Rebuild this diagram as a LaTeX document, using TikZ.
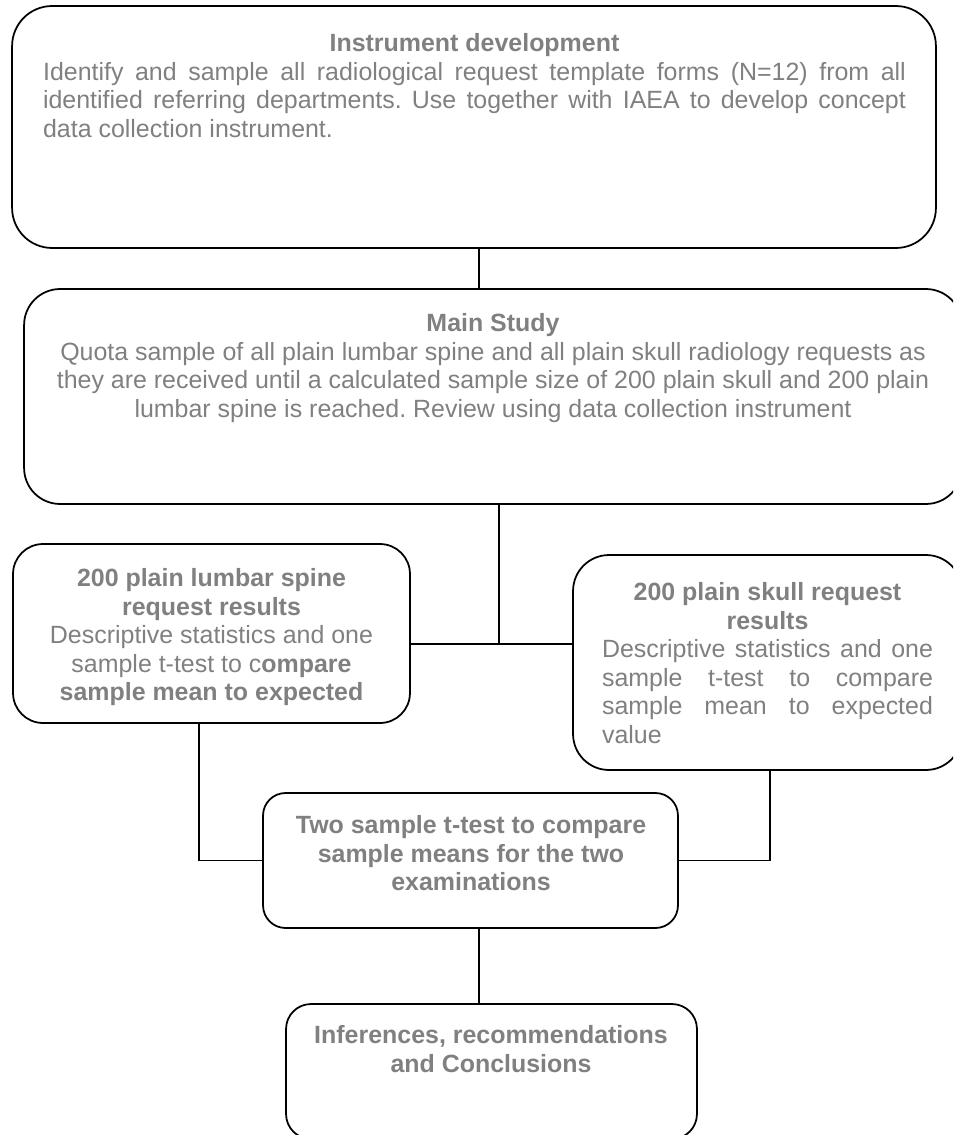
\documentclass[tikz,border=0pt]{standalone}
\usepackage{fontspec}
\setmainfont{Liberation Sans}
\frenchspacing
\definecolor{ink}{HTML}{808080}
\tikzset{
  box/.style={draw=black,fill=white,line width=1pt,inner sep=0pt},
  txt/.style={text=ink,inner sep=0pt,anchor=north,align=center,font=\fontsize{14.2}{16.3}\selectfont},
  link/.style={line width=1pt,draw=black},
}
\newcommand{\jline}[2]{\makebox[#1][s]{#2}}
\begin{document}
\begin{tikzpicture}[x=0.02cm,y=-0.02cm]
\useasboundingbox (0,0) rectangle (953,1135);
\clip (0,0) rectangle (953,1135);
% boxes
\node[box,minimum width=18.48cm,minimum height=4.84cm,rounded corners=0.8cm] (dev) at (474,127) {};
\node[box,minimum width=18.76cm,minimum height=4.3cm,rounded corners=0.72cm] (main) at (493,396.5) {};
\node[box,minimum width=7.94cm,minimum height=3.58cm,rounded corners=0.6cm] (lumbar) at (211.5,633.5) {};
\node[box,minimum width=7.78cm,minimum height=4.3cm,rounded corners=0.72cm] (skull) at (767.5,662.5) {};
\node[box,minimum width=8.3cm,minimum height=2.7cm,rounded corners=0.45cm] (two) at (470.5,860.5) {};
\node[box,minimum width=8.22cm,minimum height=2.7cm,rounded corners=0.5cm] (concl) at (491.5,1071.5) {};
% texts
\node[txt] (devtxt) at (474.5,33) {\textbf{Instrument development}\\
  \jline{17.26cm}{Identify and sample all radiological request template forms (N=12) from all}\\
  \jline{17.26cm}{identified referring departments. Use together with IAEA to develop concept}\\
  \makebox[17.26cm][l]{data collection instrument.}};
\node[txt] (maintxt) at (493,313) {\textbf{Main Study}\\
  Quota sample of all plain lumbar spine and all plain skull radiology requests as\\
  they are received until a calculated sample size of 200 plain skull and 200 plain\\
  lumbar spine is reached. Review using data collection instrument};
\node[txt] (lumbartxt) at (211.5,568) {\textbf{200 plain lumbar spine}\\ \textbf{request results}\\
  Descriptive statistics and one\\ sample t-test to c\textbf{ompare}\\ \textbf{sample mean to expected}};
\node[txt] (skulltxt) at (767.5,582) {\textbf{200 plain skull request}\\ \textbf{results}\\
  \jline{6.62cm}{Descriptive statistics and one}\\
  \jline{6.62cm}{sample t-test to compare}\\
  \jline{6.62cm}{sample mean to expected}\\
  \makebox[6.62cm][l]{value}};
\node[txt,font=\fontsize{14.2}{16.3}\selectfont\bfseries] (twotxt) at (471,815) {Two sample t-test to compare\\ sample means for the two\\ examinations};
\node[txt,font=\fontsize{14.2}{16.3}\selectfont\bfseries] (concltxt) at (491,1025) {Inferences, recommendations\\ and Conclusions};
% connectors
\coordinate (m) at (479,0);
\coordinate (j) at (499,644);
\coordinate (jl) at (199,860.5);
\coordinate (jr) at (770,860.5);
\draw[link] (dev.south -| m) -- (main.north -| m);
\draw[link] (main.south -| j) -- (j);
\draw[link] (lumbar.east |- j) -- (skull.west |- j);
\draw[link] (lumbar.south -| jl) -- (jl) -- (two.west);
\draw[link] (skull.south -| jr) -- (jr) -- (two.east);
\draw[link] (two.south -| m) -- (concl.north -| m);
\end{tikzpicture}
\end{document}
